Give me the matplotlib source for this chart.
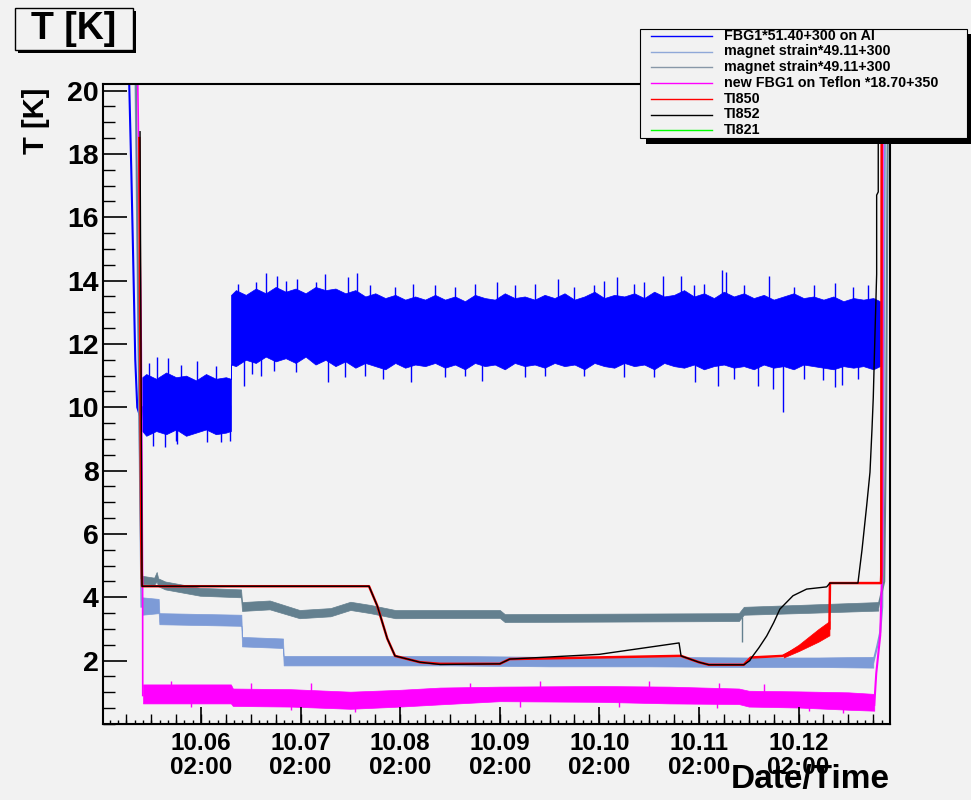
import numpy as np
import matplotlib.pyplot as plt
from matplotlib.ticker import MultipleLocator
from matplotlib.lines import Line2D
from matplotlib.patches import Rectangle

plt.rcParams['font.family'] = ['Liberation Sans', 'DejaVu Sans']
plt.rcParams['font.weight'] = 'bold'

# time = days after 10.06 02:00
day_labels = ['10.06', '10.07', '10.08', '10.09', '10.10', '10.11', '10.12']

legend_labels = ['FBG1*51.40+300 on Al', 'magnet strain*49.11+300', 'magnet strain*49.11+300',
                 'new FBG1 on Teflon *18.70+350', 'TI850', 'TI852', 'TI821']

# FBG1 on Al: cooldown line, then noisy band (lower / upper envelope) and spikes
fbg_in_t = [-0.723, -0.70, -0.683, -0.66, -0.64, -0.60, -0.59]
fbg_in_v = [20.5, 17.5, 15.0, 11.5, 10.0, 9.6, 10.0]
fbg1_t = [-0.59, -0.55, -0.45, -0.35, -0.25, -0.15, -0.05, 0.05, 0.15, 0.25, 0.30]
fbg1_lo = [9.25, 9.1, 9.25, 9.15, 9.3, 9.1, 9.2, 9.3, 9.15, 9.2, 9.25]
fbg1_hi = [10.95, 11.05, 10.9, 11.1, 10.95, 11.0, 10.85, 11.05, 10.9, 10.95, 10.9]
fbg2_t = np.round(np.arange(0.35, 6.8, 0.1), 2)
fbg2_lo = [11.3, 11.5, 11.4, 11.6, 11.45, 11.55, 11.4, 11.6, 11.35, 11.5,
           11.3, 11.45, 11.25, 11.4, 11.3, 11.2, 11.4, 11.25, 11.35, 11.3,
           11.4, 11.25, 11.35, 11.2, 11.4, 11.3, 11.35, 11.2, 11.4, 11.3,
           11.35, 11.25, 11.4, 11.3, 11.35, 11.2, 11.4, 11.3, 11.25, 11.4,
           11.3, 11.35, 11.2, 11.4, 11.3, 11.25, 11.35, 11.2, 11.3, 11.35,
           11.25, 11.3, 11.2, 11.35, 11.25, 11.3, 11.2, 11.35, 11.3, 11.25,
           11.2, 11.3, 11.25, 11.3, 11.2]
fbg2_hi = [13.7, 13.55, 13.75, 13.6, 13.8, 13.65, 13.75, 13.6, 13.8, 13.7,
           13.75, 13.6, 13.7, 13.5, 13.6, 13.45, 13.55, 13.4, 13.5, 13.4,
           13.55, 13.4, 13.5, 13.35, 13.55, 13.45, 13.4, 13.6, 13.45, 13.5,
           13.4, 13.55, 13.45, 13.6, 13.4, 13.5, 13.65, 13.45, 13.55, 13.5,
           13.6, 13.45, 13.65, 13.5, 13.55, 13.7, 13.5, 13.6, 13.45, 13.65,
           13.5, 13.6, 13.45, 13.55, 13.4, 13.5, 13.6, 13.45, 13.5, 13.4,
           13.5, 13.35, 13.45, 13.4, 13.45]
fbg2_start = (0.302, 11.35, 13.55)
fbg2_end = (6.817, 11.3, 13.35)
spike_t = [-0.445, -0.331, -0.043, -0.52, -0.2, 0.15, -0.482, -0.361, -0.244, 0.057, 0.291, -0.25, 0.2,
           0.371, 0.650, 0.760, 0.961, 1.245, 1.476, 1.563, 2.129, 2.969, 3.584, 4.046, 4.177,
           4.636, 4.819, 5.228, 5.268, 5.703, 6.365,
           0.55, 0.85, 1.15, 1.7, 1.95, 2.35, 2.55, 2.75, 3.15, 3.35, 3.75, 3.95, 4.35, 4.45,
           4.95, 5.05, 5.45, 5.95, 6.15, 6.55, 6.7,
           0.432, 0.509, 0.733, 1.272, 1.827, 2.105, 2.818, 4.960, 5.191, 5.592, 5.743, 5.840,
           6.37, 6.433,
           0.6, 0.95, 1.45, 1.65, 2.45, 2.65, 3.25, 3.45, 3.85, 4.25, 4.55, 5.35, 6.05, 6.25, 6.6]
spike_v = [11.6, 11.55, 11.45, 11.4, 11.35, 11.3, 8.78, 8.75, 8.85, 8.9, 8.95, 8.95, 8.9,
           13.9, 14.24, 14.15, 14.05, 14.2, 14.1, 14.25, 13.9, 13.95, 14.05, 14.0, 14.1,
           14.15, 14.15, 14.35, 14.26, 14.15, 13.92,
           13.95, 14.0, 13.95, 13.85, 13.8, 13.85, 13.8, 13.9, 13.85, 13.9, 13.8, 13.85, 13.9, 13.95,
           13.85, 13.9, 13.85, 13.8, 13.85, 13.8, 13.85,
           10.68, 11.05, 11.15, 10.8, 10.9, 10.79, 10.84, 10.8, 10.68, 10.68, 10.58, 9.85,
           10.64, 10.7,
           11.0, 11.1, 10.95, 11.0, 10.95, 11.0, 10.95, 11.0, 11.0, 10.95, 10.95, 10.9, 10.9, 10.85, 10.9]

# magnet strain 1
ms1_in_t = [-0.66, -0.60]
ms1_in_v = [20.5, 3.7]
ms1_t = [-0.592, -0.425, -0.418, 0.405, 0.412, 0.823, 0.830, 1.5, 2.5, 3.5, 4.5, 5.5, 6.2, 6.75]
ms1_lo = [3.45, 3.5, 3.15, 3.1, 2.45, 2.4, 1.85, 1.85, 1.85, 1.82, 1.82, 1.8, 1.8, 1.78]
ms1_hi = [4.0, 3.95, 3.5, 3.45, 2.75, 2.7, 2.15, 2.15, 2.15, 2.12, 2.12, 2.1, 2.1, 2.12]
ms1_out_t = [6.75, 6.79, 6.82, 6.84, 6.85, 6.87]
ms1_out_v = [1.95, 2.46, 2.9, 3.7, 8.0, 20.5]

# magnet strain 2
ms2_in_t = [-0.653, -0.62, -0.60]
ms2_in_v = [20.5, 10.0, 4.6]
ms2_t = [-0.592, -0.47, -0.445, -0.43, -0.36, -0.01, 0.402, 0.412, 0.69, 0.99, 1.3, 1.5, 1.7, 1.95,
         3.0, 3.05, 5.4, 5.45, 6.0, 6.8]
ms2_lo = [4.42, 4.4, 4.5, 4.35, 4.25, 4.05, 4.0, 3.57, 3.62, 3.34, 3.4, 3.6, 3.5, 3.34,
          3.35, 3.22, 3.25, 3.45, 3.5, 3.58]
ms2_hi = [4.68, 4.62, 4.8, 4.6, 4.5, 4.3, 4.25, 3.85, 3.9, 3.6, 3.66, 3.86, 3.76, 3.6,
          3.6, 3.47, 3.5, 3.7, 3.76, 3.85]
ms2_out_t = [6.8, 6.86, 6.88, 6.898]
ms2_out_v = [3.7, 4.5, 10.0, 20.5]
ms2_dip_t = 5.432
ms2_dip_v = 2.6

# new FBG1 on Teflon
teflon_in_t = [-0.636, -0.60, -0.586, -0.585]
teflon_in_v = [20.5, 12.0, 4.0, 0.9]
teflon_t = [-0.582, 0.30, 0.32, 0.9, 1.5, 2.0, 2.4, 3.0, 4.0, 4.7, 5.4, 5.5, 6.0, 6.5, 6.76]
teflon_lo = [0.65, 0.65, 0.57, 0.55, 0.48, 0.55, 0.62, 0.72, 0.7, 0.65, 0.63, 0.55, 0.52, 0.45, 0.42]
teflon_hi = [1.25, 1.25, 1.12, 1.1, 1.02, 1.08, 1.15, 1.18, 1.2, 1.18, 1.12, 1.05, 1.03, 1.0, 0.95]
teflon_spike_t = [-0.3, 0.5, 1.1, 2.7, 3.4, 4.5, 5.2, 5.65, -0.1, 0.9, 1.55, 3.2, 4.2, 5.18, 6.1, 6.45]
teflon_spike_v = [1.35, 1.3, 1.3, 1.3, 1.35, 1.35, 1.3, 1.25, 0.55, 0.45, 0.38, 0.55, 0.55, 0.5, 0.4, 0.35]
teflon_out_t = [6.76, 6.78, 6.82, 6.84, 6.845]
teflon_out_v = [0.6, 1.6, 2.8, 5.0, 20.5]

# TI850
ti850_t = [-0.62, -0.60, -0.592, 1.687, 1.77, 1.87, 1.948, 2.2, 2.4, 3.0, 3.1, 4.8, 4.82, 5.0, 5.1,
           5.45, 5.52, 5.84, 6.0, 6.1, 6.2, 6.31, 6.315, 6.827, 6.83, 6.835]
ti850_v = [18.5, 5.8, 4.35, 4.35, 3.73, 2.7, 2.15, 1.95, 1.9, 1.9, 2.05, 2.15, 2.15, 1.95, 1.87,
           1.87, 2.1, 2.15, 2.4, 2.6, 2.8, 3.0, 4.45, 4.45, 4.7, 20.5]
ti850_band_t = [5.85, 6.0, 6.1, 6.2, 6.31]
ti850_band_lo = [2.1, 2.3, 2.45, 2.6, 2.8]
ti850_band_hi = [2.2, 2.5, 2.75, 3.0, 3.25]

# TI852
ti852_t = [-0.612, -0.60, -0.592, 1.687, 1.77, 1.87, 1.948, 2.2, 2.4, 3.0, 3.1, 4.0, 4.80, 4.82, 5.0,
           5.1, 5.45, 5.51, 5.529, 5.60, 5.68, 5.75, 5.813, 5.944, 6.081, 6.282, 6.315, 6.596, 6.637,
           6.684, 6.717, 6.737, 6.75, 6.767, 6.784, 6.784, 6.80, 6.80]
ti852_v = [18.7, 10.0, 4.35, 4.35, 3.73, 2.7, 2.15, 1.95, 1.88, 1.9, 2.05, 2.2, 2.56, 2.15, 1.95,
           1.87, 1.87, 2.0, 2.1, 2.4, 2.78, 3.2, 3.63, 4.05, 4.26, 4.33, 4.45, 4.45, 5.5,
           6.9, 7.95, 9.3, 10.3, 12.3, 14.2, 16.7, 16.8, 20.5]

W, H = 971, 800
bg = '#f2f2f2'
c_fbg = '#0000ff'
c_ms1 = '#7d9bd7'
c_ms2 = '#64808f'
c_tef = '#ff00ff'
c_850 = '#ff0000'
c_852 = '#000000'
c_821 = '#00ff00'

fig = plt.figure(figsize=(W / 100, H / 100), dpi=100, facecolor=bg)
ax = fig.add_axes([103 / W, 1 - 724 / H, (890 - 103) / W, (724 - 84) / H], facecolor=bg)

# FBG1 band
fbg_t = np.concatenate([fbg1_t, [fbg2_start[0]], fbg2_t, [fbg2_end[0]]])
fbg_lo = np.concatenate([fbg1_lo, [fbg2_start[1]], fbg2_lo, [fbg2_end[1]]])
fbg_hi = np.concatenate([fbg1_hi, [fbg2_start[2]], fbg2_hi, [fbg2_end[2]]])
ax.plot(fbg_in_t, fbg_in_v, color=c_fbg, lw=1.5)
ax.fill_between(fbg_t, fbg_lo, fbg_hi, color=c_fbg, lw=0.5)
fbg_mid = (fbg_lo + fbg_hi) / 2
ax.vlines(spike_t, np.interp(spike_t, fbg_t, fbg_mid), spike_v, color=c_fbg, lw=1)

ax.plot(ms1_in_t, ms1_in_v, color=c_ms1, lw=1.2)
ax.fill_between(ms1_t, ms1_lo, ms1_hi, color=c_ms1, lw=0.5)
ax.plot(ms1_out_t, ms1_out_v, color=c_ms1, lw=1.5)

ax.plot(ms2_in_t, ms2_in_v, color=c_ms2, lw=1.2)
ax.fill_between(ms2_t, ms2_lo, ms2_hi, color=c_ms2, lw=0.5)
ax.plot(ms2_out_t, ms2_out_v, color=c_ms2, lw=1.5)
ax.vlines(ms2_dip_t, np.interp(ms2_dip_t, ms2_t, ms2_lo), ms2_dip_v, color=c_ms2, lw=1)

ax.plot(teflon_in_t, teflon_in_v, color=c_tef, lw=1.2)
ax.fill_between(teflon_t, teflon_lo, teflon_hi, color=c_tef, lw=0.5)
tef_mid = (np.array(teflon_lo) + np.array(teflon_hi)) / 2
ax.vlines(teflon_spike_t, np.interp(teflon_spike_t, teflon_t, tef_mid), teflon_spike_v, color=c_tef, lw=1)
ax.plot(teflon_out_t, teflon_out_v, color=c_tef, lw=1.5)

ax.plot(ti850_t, ti850_v, color=c_850, lw=1.8)
ax.fill_between(ti850_band_t, ti850_band_lo, ti850_band_hi, color=c_850, lw=0.5)
ax.plot(ti852_t, ti852_v, color=c_852, lw=1.0)

ax.set_xlim(-0.984, 6.918)
ax.set_ylim(0, 640 / 31.67)

ax.set_yticks(np.arange(2, 21, 2))
ax.yaxis.set_minor_locator(MultipleLocator(0.5))
ax.set_xticks(np.arange(len(day_labels)))
ax.set_xticklabels([d + '\n02:00' for d in day_labels], linespacing=1.05)
ax.set_xticks(np.arange(-11, 83) / 12, minor=True)
ax.tick_params(axis='y', which='major', direction='in', length=17, width=1.2, labelsize=20.5, pad=3)
ax.tick_params(axis='y', which='minor', direction='in', length=8.6, width=1.0)
ax.tick_params(axis='x', which='major', direction='in', length=12, width=1.2, labelsize=17.5, pad=6)
ax.tick_params(axis='x', which='minor', direction='in', length=3.2, width=1.0)
ax.tick_params(top=False, right=False, which='both')
sec = ax.secondary_xaxis('bottom')
sec.set_xticks(np.arange(-3, 28) / 4)
sec.tick_params(direction='in', length=7, width=1.0, labelbottom=False)
for s in ax.spines.values():
    s.set_linewidth(1.5)

fig.text(36 / W, 1 - 88 / H, 'T [K]', rotation=90, ha='center', va='top', fontsize=21)
fig.text(890 / W, 1 - 788 / H, 'Date/Time', ha='right', va='baseline', fontsize=24)

# title box with shadow
fig.add_artist(Rectangle((18 / W, 1 - 53 / H), 118 / W, 42 / H, transform=fig.transFigure,
                         facecolor='black', edgecolor='none'))
fig.add_artist(Rectangle((15 / W, 1 - 50 / H), 118 / W, 42 / H, transform=fig.transFigure,
                         facecolor=bg, edgecolor='black', lw=1))
fig.text(74 / W, 1 - 29 / H, 'T [K]', ha='center', va='center', fontsize=27)

# legend box with shadow
fig.add_artist(Rectangle((646 / W, 1 - 144 / H), 330 / W, 110 / H, transform=fig.transFigure,
                         facecolor='black', edgecolor='none'))
fig.add_artist(Rectangle((640 / W, 1 - 138 / H), 327 / W, 109 / H, transform=fig.transFigure,
                         facecolor=bg, edgecolor='black', lw=0.8))
leg_colors = [c_fbg, '#8fa8d8', '#8898a8', c_tef, c_850, c_852, c_821]
rows = [36, 51.5, 67, 83, 99, 114.5, 130]
for lab, col, yy in zip(legend_labels, leg_colors, rows):
    fy = 1 - yy / H
    fig.add_artist(Line2D([651 / W, 712 / W], [fy, fy], transform=fig.transFigure, color=col, lw=1))
    fig.text(724 / W, fy, lab, ha='left', va='center', fontsize=10.3)

fig.savefig('out.png', dpi=100, facecolor=bg)
